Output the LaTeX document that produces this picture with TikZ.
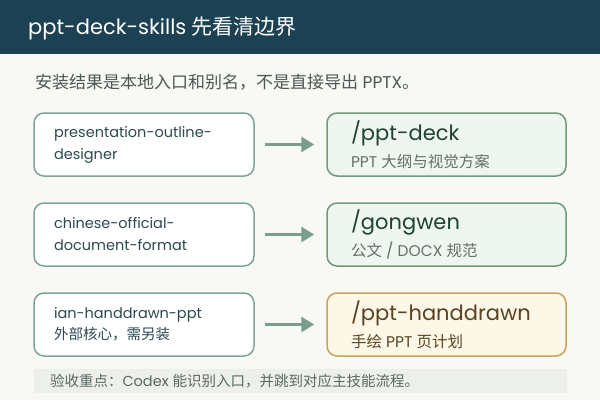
\documentclass[tikz,border=0pt]{standalone}
\usepackage{fontspec}
\setmainfont{Poppins}
\newfontfamily\cjk{Noto Sans CJK SC}
\newcommand{\zh}[1]{{\cjk #1}}
\usetikzlibrary{arrows.meta}

\definecolor{pagebg}{HTML}{F8F9F4}
\definecolor{headbg}{HTML}{1B4152}
\definecolor{srcline}{HTML}{7FA39A}
\definecolor{srctext}{HTML}{2B4A4F}
\definecolor{cmdline}{HTML}{6F9A7C}
\definecolor{cmdfill}{HTML}{EEF6EF}
\definecolor{cmdtext}{HTML}{1F4232}
\definecolor{cmdsub}{HTML}{627068}
\definecolor{drawline}{HTML}{C9A25C}
\definecolor{drawfill}{HTML}{FDF7E8}
\definecolor{drawtext}{HTML}{5A4322}
\definecolor{flowline}{HTML}{7A9E8C}
\definecolor{notebg}{HTML}{EDF0EA}
\definecolor{notetext}{HTML}{5A6864}

\begin{document}
\begin{tikzpicture}[x=1pt, y=-1pt,
    srcbox/.style={draw=srcline, fill=white, line width=1.5pt, rounded corners=10pt,
      minimum width=220pt, minimum height=63pt, text width=180pt, inner xsep=20pt,
      align=flush left, text=srctext, font=\fontsize{14.5}{22}\selectfont},
    cmdbox/.style={draw=cmdline, fill=cmdfill, line width=1.5pt, rounded corners=10pt,
      minimum width=239pt, minimum height=63pt, text width=191pt, inner xsep=24pt,
      align=flush left, text=cmdtext, font=\fontsize{21}{27}\selectfont},
    flow/.style={draw=flowline, line width=3pt, -{Triangle[length=13pt, width=15pt]},
      shorten <=10pt, shorten >=12pt}]
  % page and header
  \fill[pagebg] (0,0) rectangle (600,400);
  \fill[headbg] (0,0) rectangle (600,54);
  \node[anchor=west, inner sep=0pt, text=white, font=\fontsize{21}{21}\selectfont] (title) at (28,28)
    {ppt-deck-skills \zh{先看清边界}};
  \node[anchor=west, inner sep=0pt, text=notetext!85!black, font=\fontsize{17}{17}\selectfont] (lead) at (35,82)
    {\zh{安装结果是本地入口和别名，不是直接导出} PPTX\zh{。}};

  % skills on the left
  \node[srcbox] (outline) at (144,144.5) {presentation-outline-\\designer};
  \node[srcbox] (official) at (144,234.5) {chinese-official-\\document-format};
  \node[srcbox] (hand) at (144,324.5)
    {ian-handdrawn-ppt\\[-1pt]{\cjk\fontsize{14.5}{22}\selectfont 外部核心，需另装}};

  % entries on the right
  \node[cmdbox] (deck) at (446.5,144.5)
    {/ppt-deck\\{\fontsize{15.5}{27}\selectfont\color{cmdsub}PPT \zh{大纲与视觉方案}}};
  \node[cmdbox] (gongwen) at (446.5,234.5)
    {/gongwen\\{\fontsize{15.5}{27}\selectfont\color{cmdsub}\zh{公文} / DOCX \zh{规范}}};
  \node[cmdbox, draw=drawline, fill=drawfill, text=drawtext] (handdrawn) at (446.5,324.5)
    {/ppt-handdrawn\\{\fontsize{15.5}{27}\selectfont\zh{手绘} PPT \zh{页计划}}};

  \draw[flow] (outline) -- (deck);
  \draw[flow] (official) -- (gongwen);
  \draw[flow] (hand) -- (handdrawn);

  % note at the bottom
  \node[fill=notebg, minimum width=533pt, minimum height=24pt, text width=501pt, inner xsep=16pt,
    align=flush left, text=notetext, font=\fontsize{14.5}{14.5}\selectfont] (note) at (300.5,381)
    {\zh{验收重点：}Codex \zh{能识别入口，并跳到对应主技能流程。}};
\end{tikzpicture}
\end{document}
